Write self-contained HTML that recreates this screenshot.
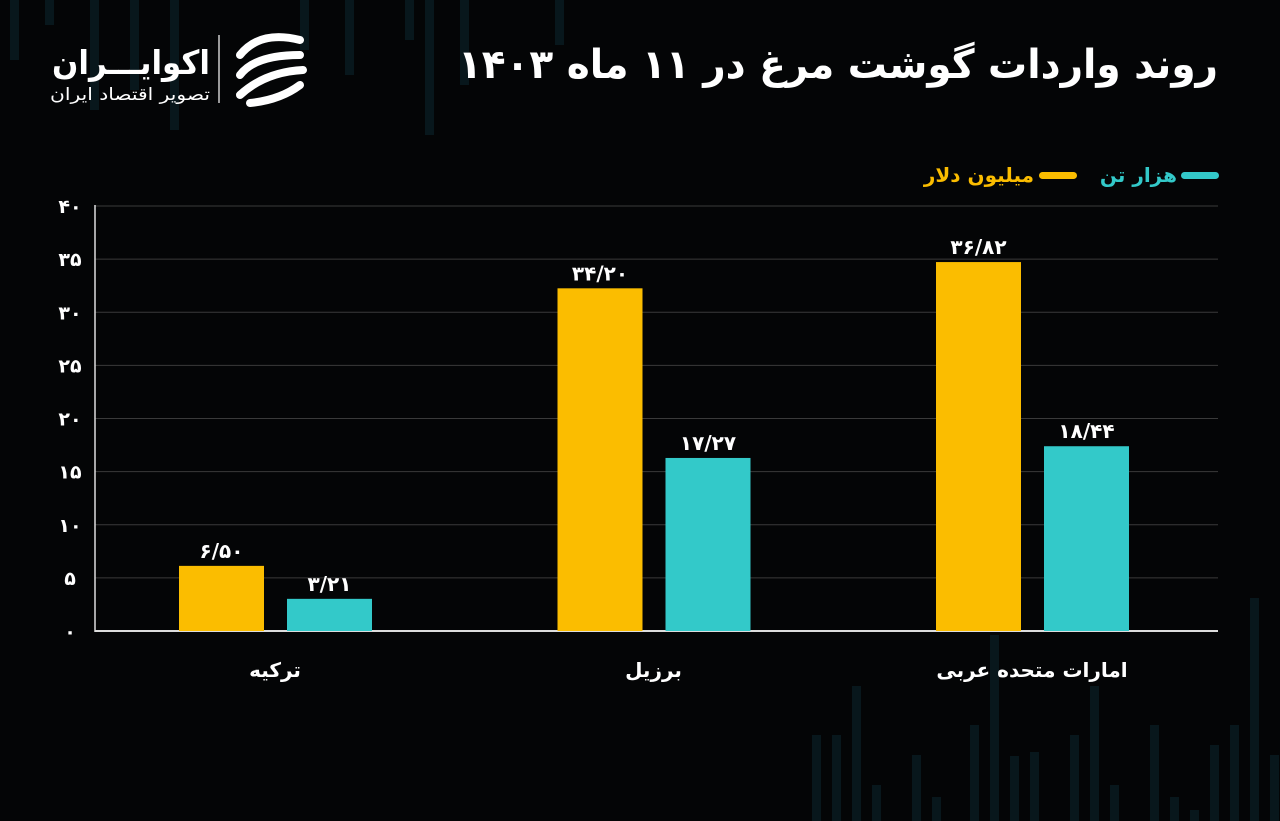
<!DOCTYPE html>
<html><head><meta charset="utf-8"><style>
html,body{margin:0;padding:0;background:#040506;}
svg{display:block;}
text{font-family:"DejaVu Sans","Liberation Sans",sans-serif;}
</style></head><body>
<svg id="c" width="1280" height="821" xmlns="http://www.w3.org/2000/svg">
<rect width="1280" height="821" fill="#040506"/>
<g id="deco"></g>
<g>
 <text x="210" y="74" fill="#fff" font-size="33" font-weight="bold" text-anchor="end" textLength="158" lengthAdjust="spacingAndGlyphs">اکوایـــران</text>
 <text x="210" y="100" fill="#fff" font-size="17" text-anchor="end" textLength="160" lengthAdjust="spacingAndGlyphs">تصویر اقتصاد ایران</text>
 <line x1="219" y1="35" x2="219" y2="103" stroke="#ccc" stroke-width="1.5"/>
 <g fill="none" stroke="#fff" stroke-width="8" stroke-linecap="round">
  <path d="M300 40 Q260 30 240 55"/><path d="M300 55 Q255 55 240 75"/><path d="M303 70 Q265 72 240 95"/><path d="M300 85 Q280 100 250 103"/>
 </g>
</g>
<text x="1218" y="78" fill="#fff" font-size="40" font-weight="bold" text-anchor="end" textLength="760" lengthAdjust="spacingAndGlyphs">روند واردات گوشت مرغ در ۱۱ ماه ۱۴۰۳</text>
<g>
 <rect x="1181" y="172" width="38" height="7" rx="3.5" fill="#33c9c9"/>
 <text x="1177" y="182" fill="#33c9c9" font-size="20" font-weight="bold" text-anchor="end">هزار تن</text>
 <rect x="1039" y="172" width="38" height="7" rx="3.5" fill="#fbbd00"/>
 <text x="1034" y="182" fill="#fbbd00" font-size="20" font-weight="bold" text-anchor="end">میلیون دلار</text>
</g>
<g id="grid"></g><g id="bars"></g>
</svg>
<script>
const categories=["ترکیه","برزیل","امارات متحده عربی"];
const dollars=[6.50,34.20,36.82];
const tons=[3.21,17.27,18.44];
const ticks=[0,5,10,15,20,25,30,35,40];
const NS="http://www.w3.org/2000/svg";
const fa=s=>String(s).replace(/\d/g,d=>"۰۱۲۳۴۵۶۷۸۹"[d]);
const yGrid=v=>631-v*10.625;
const yBar=v=>631-v*10.02;
const xCat=i=>275+i*378.5;
function mk(t,a,p){const e=document.createElementNS(NS,t);for(const k in a)e.setAttribute(k,a[k]);p.appendChild(e);return e;}
const deco=document.getElementById('deco');
[[10,0,60],[45,0,25],[90,0,110],[130,0,90],[170,0,130],[300,0,50],[345,0,75],[405,0,40],[425,0,135],[460,0,85],[555,0,45],[812,735,821],[832,735,821],[852,686,821],[872,785,821],[912,755,821],[932,797,821],[970,725,821],[990,635,821],[1010,756,821],[1030,752,821],[1070,735,821],[1090,686,821],[1110,785,821],[1150,725,821],[1170,797,821],[1190,810,821],[1210,745,821],[1230,725,821],[1250,598,821],[1270,755,821]].forEach((d,i)=>{
 const r=mk('rect',{x:d[0],y:d[1],width:9,height:(d[2]-d[1])||d[2],fill:'#0d2630',opacity:0.55},deco);
 
 
});
const grid=document.getElementById('grid');
ticks.forEach(t=>{
 const l=mk('line',{x1:95,x2:1218,y1:yGrid(t),y2:yGrid(t),stroke:t===0?'#ddd':'#3a3a3a','stroke-width':t===0?2:1},grid);
 
 
 const tx=mk('text',{x:70,y:yGrid(t)+7,fill:'#fff','font-size':19,'font-weight':'bold','text-anchor':'middle'},grid);
 tx.textContent=fa(t);
 
 
});
mk('line',{x1:95,x2:95,y1:205,y2:632,stroke:'#ddd','stroke-width':1.5},grid);
const bars=document.getElementById('bars');
const fmt=v=>fa(v.toFixed(2)).replace('.','/');
categories.forEach((c,i)=>{
 const cx=xCat(i);
 [[dollars[i],'#fbbd00',cx-96,'bar-dollars'],[tons[i],'#33c9c9',cx+12,'bar-tons']].forEach(b=>{
  const r=mk('rect',{x:b[2],y:yBar(b[0]),width:85,height:631-yBar(b[0]),fill:b[1]},bars);
  
  
  const t=mk('text',{x:b[2]+42.5,y:yBar(b[0])-8,fill:'#fff','font-size':20,'font-weight':'bold','text-anchor':'middle'},bars);
  t.textContent=fmt(b[0]);
  
  
 });
 const l=mk('text',{x:cx,y:677,fill:'#fff','font-size':20,'font-weight':'bold','text-anchor':'middle'},bars);
 l.textContent=c;
 
 
});
</script>
</body></html>
